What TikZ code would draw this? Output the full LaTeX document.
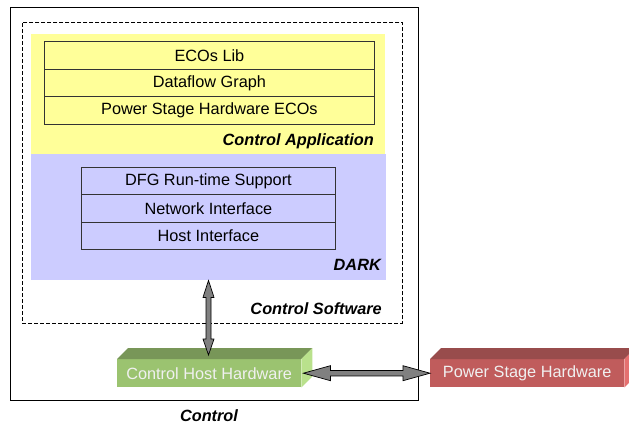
\documentclass[tikz,border=0pt]{standalone}
\usepackage{fontspec}
\setmainfont{Liberation Sans}
\usetikzlibrary{calc}
\definecolor{appyellow}{RGB}{255,255,153}
\definecolor{darklav}{RGB}{204,204,255}
\definecolor{gfront}{RGB}{155,195,112}
\definecolor{gtop}{RGB}{120,150,88}
\definecolor{gside}{RGB}{185,225,140}
\definecolor{rfront}{RGB}{192,92,92}
\definecolor{rtop}{RGB}{152,76,76}
\definecolor{rside}{RGB}{228,112,112}
\definecolor{arrowgray}{RGB}{128,128,128}
\begin{document}
\begin{tikzpicture}[x=1pt,y=-1pt,
  txt/.style={font=\fontsize{16.3}{19}\selectfont},
  lbl/.style={font=\fontsize{16.3}{19}\selectfont\bfseries\itshape, inner sep=0pt},
  area/.style={draw=none, inner sep=0pt, anchor=north west},
  layer/.style={draw=black!80, line width=0.8pt, inner sep=0pt, anchor=north west, txt},
  hwfront/.style={draw=none, inner sep=0pt, anchor=north west, text=white!94!black, txt},
  fatarrow/.style={draw=black, line width=0.7pt, fill=arrowgray, line join=miter}
]
\useasboundingbox (0,0) rectangle (629,423);
% outer Control box
\node[draw=black, line width=1pt, inner sep=0pt, anchor=north west,
      minimum width=408pt, minimum height=393pt] (control) at (10,7) {};
% dashed Control Software box
\node[draw=black, dashed, dash pattern=on 4pt off 2pt, line width=0.7pt, inner sep=0pt,
      anchor=north west, minimum width=380pt, minimum height=301pt] (software) at (22,22) {};
% Control Application area
\node[area, fill=appyellow, minimum width=354pt, minimum height=120pt] (app) at (31,34) {};
% DARK area
\node[area, fill=darklav, minimum width=355pt, minimum height=126pt] (dark) at (31,154) {};
% application layers
\node[layer, fill=appyellow, minimum width=330pt, minimum height=27.7pt] (ecos) at (44,41) {ECOs Lib};
\node[layer, fill=appyellow, minimum width=330pt, minimum height=27.7pt] (dfg) at (44,68.7) {Dataflow Graph};
\node[layer, fill=appyellow, minimum width=330pt, minimum height=27.7pt] (psecos) at (44,96.3) {Power Stage Hardware ECOs};
\node[lbl, anchor=east] (applbl) at (374,141) {Control Application};
% DARK layers
\node[layer, fill=darklav, minimum width=254pt, minimum height=27.3pt] (rts) at (81,167) {DFG Run-time Support};
\node[layer, fill=darklav, minimum width=254pt, minimum height=27.3pt] (net) at (81,194.3) {Network Interface};
\node[layer, fill=darklav, minimum width=254pt, minimum height=27.3pt] (host) at (81,221.7) {Host Interface};
\node[lbl, anchor=east] (darklbl) at (381,265) {DARK};
\node[lbl, anchor=east] (swlbl) at (382,309) {Control Software};
\node[lbl, anchor=base] (ctrllbl) at (209,421) {Control};
% Control Host Hardware (3D block)
\node[hwfront, fill=gfront, minimum width=184pt, minimum height=28pt] (chh) at (117,359) {Control Host Hardware};
\fill[gtop] (chh.north west) -- ++(11,-11) -- ($(chh.north east)+(11,-11)$) -- (chh.north east) -- cycle;
\fill[gside] (chh.north east) -- ++(11,-11) -- ($(chh.south east)+(11,-11)$) -- (chh.south east) -- cycle;
% Power Stage Hardware (3D block)
\node[hwfront, fill=rfront, minimum width=194pt, minimum height=28pt] (psh) at (430,359) {Power Stage Hardware};
\fill[rtop] (psh.north west) -- ++(11,-11) -- ($(psh.north east)+(11,-11)$) -- (psh.north east) -- cycle;
\fill[rside] (psh.north east) -- ++(11,-11) -- ($(psh.south east)+(11,-11)$) -- (psh.south east) -- cycle;
% vertical double arrow DARK <-> Control Host Hardware
\coordinate (vt) at (dark.south -| 208.5,0);
\coordinate (vb) at (208.5,355);
\draw[fatarrow] (vt) -- ($(vt)+(5.5,17)$) -- ($(vt)+(2.5,17)$) -- ($(vb)+(2.5,-16)$) -- ($(vb)+(5.5,-16)$)
  -- (vb) -- ($(vb)+(-5.5,-16)$) -- ($(vb)+(-2.5,-16)$) -- ($(vt)+(-2.5,17)$) -- ($(vt)+(-5.5,17)$) -- cycle;
% horizontal double arrow Control Host Hardware <-> Power Stage Hardware
\coordinate (hl) at ($(chh.east)+(2,0)$);
\coordinate (hr) at (psh.west);
\draw[fatarrow] (hl) -- ($(hl)+(27,-7.5)$) -- ($(hl)+(27,-2.7)$) -- ($(hr)+(-27,-2.7)$) -- ($(hr)+(-27,-7.5)$)
  -- (hr) -- ($(hr)+(-27,7.5)$) -- ($(hr)+(-27,2.7)$) -- ($(hl)+(27,2.7)$) -- ($(hl)+(27,7.5)$) -- cycle;
\end{tikzpicture}
\end{document}
